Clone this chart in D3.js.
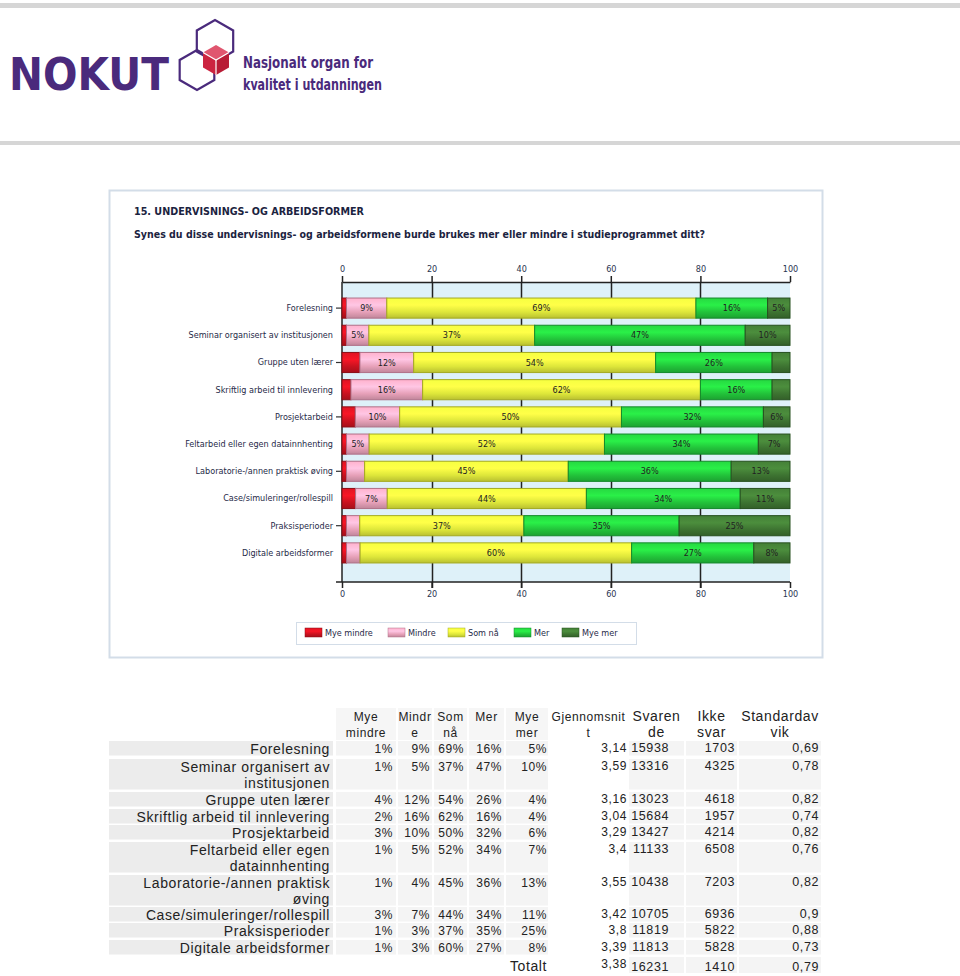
<!DOCTYPE html>
<html>
<head>
<meta charset="utf-8">
<script src="https://cdn.jsdelivr.net/npm/d3@7"></script>
<style>
  body { margin: 0; background: #fff; }
  svg { display: block; }
</style>
</head>
<body>
<svg id="page" width="960" height="976"></svg>
<script>
// survey data
const categories = [
  "Forelesning",
  "Seminar organisert av institusjonen",
  "Gruppe uten lærer",
  "Skriftlig arbeid til innlevering",
  "Prosjektarbeid",
  "Feltarbeid eller egen datainnhenting",
  "Laboratorie-/annen praktisk øving",
  "Case/simuleringer/rollespill",
  "Praksisperioder",
  "Digitale arbeidsformer"
];
const tableLabels = [
  ["Forelesning"],
  ["Seminar organisert av", "institusjonen"],
  ["Gruppe uten lærer"],
  ["Skriftlig arbeid til innlevering"],
  ["Prosjektarbeid"],
  ["Feltarbeid eller egen", "datainnhenting"],
  ["Laboratorie-/annen praktisk", "øving"],
  ["Case/simuleringer/rollespill"],
  ["Praksisperioder"],
  ["Digitale arbeidsformer"]
];
const seriesNames = ["Mye mindre", "Mindre", "Som nå", "Mer", "Mye mer"];
const myeMindre = [1, 1, 4, 2, 3, 1, 1, 3, 1, 1];
const mindre    = [9, 5, 12, 16, 10, 5, 4, 7, 3, 3];
const somNa     = [69, 37, 54, 62, 50, 52, 45, 44, 37, 60];
const mer       = [16, 47, 26, 16, 32, 34, 36, 34, 35, 27];
const myeMer    = [5, 10, 4, 4, 6, 7, 13, 11, 25, 8];
const gjennomsnitt = ["3,14", "3,59", "3,16", "3,04", "3,29", "3,4", "3,55", "3,42", "3,8", "3,39"];
const svarende  = [15938, 13316, 13023, 15684, 13427, 11133, 10438, 10705, 11819, 11813];
const ikkeSvar  = [1703, 4325, 4618, 1957, 4214, 6508, 7203, 6936, 5822, 5828];
const stdAvvik  = ["0,69", "0,78", "0,82", "0,74", "0,82", "0,76", "0,82", "0,9", "0,88", "0,73"];
const totalt    = ["3,38", 16231, 1410, "0,79"];
const xTicks    = [0, 20, 40, 60, 80, 100];
const headers   = [["Mye", "mindre"], ["Mindr", "e"], ["Som", "nå"], ["Mer"], ["Mye", "mer"],
                   ["Gjennomsnit", "t"], ["Svaren", "de"], ["Ikke", "svar"], ["Standardav", "vik"]];

const colors = ["#c8121f", "#e6a0b8", "#dde63a", "#22c23a", "#3d7331"];
const dark   = ["#8a0c14", "#b07088", "#a4aa20", "#13892a", "#27501f"];

const svg = d3.select("#page");
const defs = svg.append("defs");
colors.forEach((c, i) => {
  const g = defs.append("linearGradient").attr("id", "grad" + i)
    .attr("x1", 0).attr("y1", 0).attr("x2", 0).attr("y2", 1);
  g.append("stop").attr("offset", "0%").attr("stop-color", d3.color(c).brighter(0.3));
  g.append("stop").attr("offset", "35%").attr("stop-color", d3.color(c).brighter(0.6));
  g.append("stop").attr("offset", "70%").attr("stop-color", c);
  g.append("stop").attr("offset", "100%").attr("stop-color", d3.color(c).darker(0.5));
});

// ---- header / logo ----
svg.append("rect").attr("x", 0).attr("y", 3).attr("width", 960).attr("height", 5).attr("fill", "#d6d6d6");
svg.append("rect").attr("x", 0).attr("y", 141).attr("width", 960).attr("height", 4).attr("fill", "#d6d6d6");

const purple = "#4a2a7c";
svg.append("text").attr("x", 9).attr("y", 90)
  .attr("font-family", "DejaVu Sans").attr("font-weight", "bold")
  .attr("font-size", 44).attr("textLength", 160).attr("lengthAdjust", "spacingAndGlyphs")
  .attr("fill", purple).text("NOKUT");

function hexPoints(cx, cy, r, rot) {
  return d3.range(6).map(k => {
    const a = Math.PI / 180 * (60 * k + rot);
    return [cx + r * Math.cos(a), cy + r * Math.sin(a)];
  });
}
const logo = svg.append("g");
logo.append("polygon").attr("points", hexPoints(215, 41, 21, 30).join(" "))
  .attr("fill", "none").attr("stroke", purple).attr("stroke-width", 2.2);
logo.append("polygon").attr("points", hexPoints(197, 70, 20, 30).join(" "))
  .attr("fill", "none").attr("stroke", purple).attr("stroke-width", 2.2);
// cube
const cp = hexPoints(216, 60, 15, 30);
const cc = [216, 60];
logo.append("polygon").attr("points", [cp[3], cp[4], cp[5], cc].join(" ")).attr("fill", "#e0566f");
logo.append("polygon").attr("points", [cp[2], cp[3], cc, cp[1]].join(" ")).attr("fill", "#cc2440");
logo.append("polygon").attr("points", [cc, cp[5], cp[0], cp[1]].join(" ")).attr("fill", "#b81c36");
logo.append("polyline").attr("points", [cp[3], cc, cp[5]].join(" ")).attr("fill", "none").attr("stroke", "#fff").attr("stroke-width", 1.2);
logo.append("line").attr("x1", cc[0]).attr("y1", cc[1]).attr("x2", cp[1][0]).attr("y2", cp[1][1]).attr("stroke", "#fff").attr("stroke-width", 1.2);

svg.append("text").attr("x", 243).attr("y", 68)
  .attr("font-family", "DejaVu Sans Condensed").attr("font-weight", "bold").attr("font-size", 15)
  .attr("textLength", 130).attr("lengthAdjust", "spacingAndGlyphs")
  .attr("fill", purple).text("Nasjonalt organ for");
svg.append("text").attr("x", 243).attr("y", 90)
  .attr("font-family", "DejaVu Sans Condensed").attr("font-weight", "bold").attr("font-size", 15)
  .attr("textLength", 139).attr("lengthAdjust", "spacingAndGlyphs")
  .attr("fill", purple).text("kvalitet i utdanningen");

// ---- chart panel ----
svg.append("rect").attr("x", 109.5).attr("y", 190.5).attr("width", 713).attr("height", 467)
  .attr("fill", "#fff").attr("stroke", "#d3dde8").attr("stroke-width", 2);

svg.append("text").attr("x", 134).attr("y", 215)
  .attr("font-family", "DejaVu Sans Condensed").attr("font-weight", "bold").attr("font-size", 11)
  .attr("textLength", 230).attr("lengthAdjust", "spacingAndGlyphs")
  .attr("fill", "#1b2340").text("15. UNDERVISNINGS- OG ARBEIDSFORMER");
svg.append("text").attr("x", 134).attr("y", 238)
  .attr("font-family", "DejaVu Sans Condensed").attr("font-weight", "bold").attr("font-size", 11)
  .attr("textLength", 571).attr("lengthAdjust", "spacingAndGlyphs")
  .attr("fill", "#1b2340").text("Synes du disse undervisnings- og arbeidsformene burde brukes mer eller mindre i studieprogrammet ditt?");

const plot = { left: 342, right: 790, top: 282, bottom: 582 };
const x = d3.scaleLinear().domain([0, 100]).range([plot.left, plot.right]);
const y = d3.scaleBand().domain(categories).range([294.5, 566.5]).paddingInner(0.26).paddingOuter(0.13);

const g = svg.append("g");
g.append("rect").attr("x", plot.left).attr("y", plot.top)
  .attr("width", plot.right - plot.left).attr("height", plot.bottom - plot.top).attr("fill", "#def1f9");

// grid lines
g.selectAll("line.grid").data(xTicks.slice(1, -1)).join("line")
  .attr("class", "grid")
  .attr("x1", d => Math.round(x(d)) + 0.5).attr("x2", d => Math.round(x(d)) + 0.5)
  .attr("y1", plot.top).attr("y2", plot.bottom + 6)
  .attr("stroke", "#222").attr("stroke-width", 1.5);

// top axis
const topAxis = g.append("g").attr("transform", `translate(0,${plot.top})`)
  .call(d3.axisTop(x).tickValues(xTicks).tickSize(6).tickSizeOuter(0));
// bottom axis
const botAxis = g.append("g").attr("transform", `translate(0,${plot.bottom})`)
  .call(d3.axisBottom(x).tickValues(xTicks).tickSize(6).tickSizeOuter(0));
[topAxis, botAxis].forEach(a => {
  a.select(".domain").attr("stroke", "#222").attr("stroke-width", 1.5);
  a.selectAll(".tick line").attr("stroke", "#222").attr("stroke-width", 1.5);
  a.selectAll(".tick text").attr("font-family", "DejaVu Sans Condensed").attr("font-size", 9).attr("fill", "#2a3550");
});
topAxis.selectAll(".tick text").attr("dy", "-0.1em");
botAxis.select(".domain").attr("d", `M${plot.left - 6},0H${plot.right}`);

// left axis
const leftAxis = g.append("g").attr("transform", `translate(${plot.left},0)`)
  .call(d3.axisLeft(y).tickSize(6).tickSizeOuter(0).tickPadding(3));
leftAxis.select(".domain").attr("d", `M0,${plot.top}V${plot.bottom}`).attr("stroke", "#222").attr("stroke-width", 1.5);
leftAxis.selectAll(".tick line").attr("stroke", "#333").attr("stroke-width", 1.2)
  .attr("opacity", (d, i) => i % 2 === 0 ? 1 : 0);
leftAxis.selectAll(".tick text").attr("font-family", "DejaVu Sans Condensed").attr("font-size", 9).attr("fill", "#1f2a48");

// stacked bars
const series = [myeMindre, mindre, somNa, mer, myeMer];
const rows = categories.map((c, i) => {
  const vals = series.map(s => s[i]);
  const total = d3.sum(vals);
  let acc = 0;
  return vals.map((v, k) => {
    const seg = { cat: c, k, v, x0: acc / total * 100, x1: (acc + v) / total * 100 };
    acc += v;
    return seg;
  });
});
const segs = rows.flat();
const bars = g.append("g");
bars.selectAll("rect").data(segs).join("rect")
  .attr("x", d => x(d.x0)).attr("width", d => x(d.x1) - x(d.x0))
  .attr("y", d => y(d.cat)).attr("height", y.bandwidth())
  .attr("fill", d => `url(#grad${d.k})`)
  .attr("stroke", d => dark[d.k]).attr("stroke-width", 1);
bars.selectAll("text").data(segs.filter(d => d.v >= 5)).join("text")
  .attr("x", d => (x(d.x0) + x(d.x1)) / 2).attr("y", d => y(d.cat) + y.bandwidth() / 2)
  .attr("dy", "0.35em").attr("text-anchor", "middle")
  .attr("font-family", "DejaVu Sans Condensed").attr("font-size", 9).attr("fill", "#222")
  .text(d => d.v + "%");

// legend
const lg = svg.append("g");
lg.append("rect").attr("x", 296.5).attr("y", 622.5).attr("width", 340).attr("height", 22)
  .attr("fill", "#fff").attr("stroke", "#d3dde8");
const legendX = [305, 388, 448, 514, 562];
seriesNames.forEach((n, i) => {
  lg.append("rect").attr("x", legendX[i]).attr("y", 628).attr("width", 17).attr("height", 9)
    .attr("fill", `url(#grad${i})`).attr("stroke", dark[i]).attr("stroke-width", 0.5);
  lg.append("text").attr("x", legendX[i] + 20).attr("y", 633).attr("dy", "0.35em")
    .attr("font-family", "DejaVu Sans Condensed").attr("font-size", 9).attr("fill", "#1f2a48").text(n);
});

// ---- table ----
const cols = [
  { x0: 335, x1: 397, r: 393 }, { x0: 397, x1: 433, r: 430 }, { x0: 433, x1: 468, r: 464 },
  { x0: 468, x1: 505, r: 502 }, { x0: 505, x1: 549, r: 547 }, { x0: 549, x1: 628, r: 627 },
  { x0: 628, x1: 685, r: 669 }, { x0: 685, x1: 738, r: 735 }, { x0: 738, x1: 822, r: 819 }
];
const rowTops = [741, 759, 792, 809, 825, 842, 875, 907, 923, 940];
const rowHeights = rowTops.map((t, i) => tableLabels[i].length === 2 ? 32 : 16);
const tg = svg.append("g").attr("font-family", "Liberation Sans, Arial, sans-serif")
  .attr("font-size", 13).attr("fill", "#222").attr("letter-spacing", 0.6);

// header cells
cols.forEach((c, j) => {
  tg.append("rect").attr("x", c.x0 + 1).attr("y", 708).attr("width", c.x1 - c.x0 - 2).attr("height", 32)
    .attr("fill", j >= 5 ? "#fff" : "#f6f6f6");
  headers[j].forEach((line, l) => {
    tg.append("text").attr("x", (c.x0 + c.x1) / 2).attr("y", 721 + l * 16)
      .attr("text-anchor", "middle").attr("font-size", j > 5 ? 14 : 12).text(line);
  });
});

categories.forEach((cat, i) => {
  const top = rowTops[i], h = rowHeights[i];
  tg.append("rect").attr("x", 109).attr("y", top).attr("width", 224).attr("height", h - 1.5).attr("fill", "#ececec");
  tableLabels[i].forEach((line, l) => {
    tg.append("text").attr("x", 330).attr("y", top + 13 + l * 16).attr("text-anchor", "end")
      .attr("font-size", 14).text(line);
  });
  const vals = [myeMindre[i] + "%", mindre[i] + "%", somNa[i] + "%", mer[i] + "%", myeMer[i] + "%",
                gjennomsnitt[i], svarende[i], ikkeSvar[i], stdAvvik[i]];
  cols.forEach((c, j) => {
    tg.append("rect").attr("x", c.x0 + 1).attr("y", top).attr("width", c.x1 - c.x0 - 2).attr("height", h - 1.5)
      .attr("fill", j === 5 ? "#fff" : "#f4f4f4");
    tg.append("text").attr("x", c.r).attr("y", top + (j >= 5 ? 11 : 12)).attr("text-anchor", "end")
      .attr("font-size", j >= 6 ? 12.5 : 12).text(vals[j]);
  });
});

// total row
tg.append("text").attr("x", 547).attr("y", 971).attr("text-anchor", "end").attr("font-size", 14).text("Totalt");
totalt.forEach((v, k) => {
  const c = cols[5 + k];
  tg.append("rect").attr("x", c.x0 + 1).attr("y", 957).attr("width", c.x1 - c.x0 - 2).attr("height", 16)
    .attr("fill", k === 0 ? "#fff" : "#f4f4f4");
  tg.append("text").attr("x", c.r).attr("y", k === 0 ? 968 : 971).attr("text-anchor", "end")
    .attr("font-size", k === 0 ? 12 : 12.5).text(v);
});
</script>
</body>
</html>
